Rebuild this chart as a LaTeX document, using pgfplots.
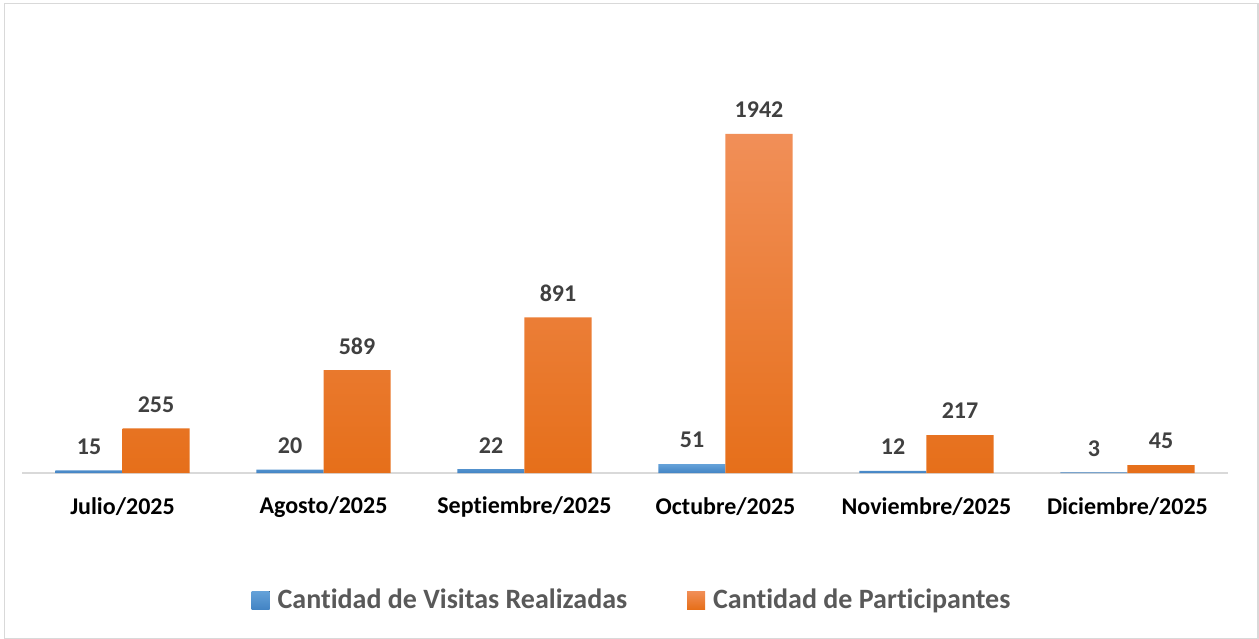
\documentclass[border=0pt]{standalone}
\usepackage{pgfplots}
\pgfplotsset{compat=1.18}
\usepackage{fontspec}
\setmainfont{Carlito}[Ligatures=NoCommon]
\definecolor{lbl}{HTML}{404040}
\definecolor{leg}{HTML}{595959}
\definecolor{orT}{HTML}{F18F58}
\definecolor{orB}{HTML}{E66F1A}
\definecolor{blT}{HTML}{65A2D9}
\definecolor{blB}{HTML}{4384C4}
\definecolor{frm}{HTML}{D9D9D9}
\begin{document}
\begin{tikzpicture}
\useasboundingbox (-11pt,-82.5pt) rectangle (618.5pt,236.5pt);
\draw[frm, line width=0.9pt] (-8.75pt,-83pt) rectangle (618pt,234.75pt);
\begin{axis}[
  scale only axis,
  width=603pt, height=227pt,
  xmin=-0.5, xmax=5.5, ymin=0, ymax=2600,
  ybar=0pt, bar width=33.5pt,
  xtick={0,1,2,3,4,5},
  xticklabels={Julio/2025,Agosto/2025,Septiembre/2025,Octubre/2025,Noviembre/2025,Diciembre/2025},
  axis x line*=bottom, axis y line=none,
  x axis line style={draw=frm, line width=1pt},
  major tick length=0pt,
  xticklabel style={font=\fontsize{12}{14}\selectfont\bfseries, text=black, anchor=center, yshift=-17pt},
  nodes near coords,
  nodes near coords style={font=\fontsize{12}{14}\selectfont\bfseries, text=lbl, anchor=center, yshift=12pt,
    /pgf/number format/.cd, 1000 sep={}, assume math mode=true},
  legend style={at={(axis description cs:0.5,0)}, anchor=center, yshift=-63.5pt, xshift=4pt,
    draw=none, fill=none, legend columns=2, font=\fontsize{14}{16}\selectfont\bfseries, text=leg,
    /tikz/every even column/.append style={column sep=28pt}},
  legend image code/.code={\fill[#1] (0pt,-4.5pt) rectangle (9pt,4.5pt); \path (0pt,0pt) -- (11pt,0pt);},
]
\addplot[draw=none, top color=blT, bottom color=blB] coordinates {(0,15) (1,20) (2,22) (3,51) (4,12) (5,3)};
\addplot[draw=none, top color=orT, bottom color=orB] coordinates {(0,255) (1,589) (2,891) (3,1942) (4,217) (5,45)};
\legend{Cantidad de Visitas Realizadas, Cantidad de Participantes}
\end{axis}
\end{tikzpicture}
\end{document}
